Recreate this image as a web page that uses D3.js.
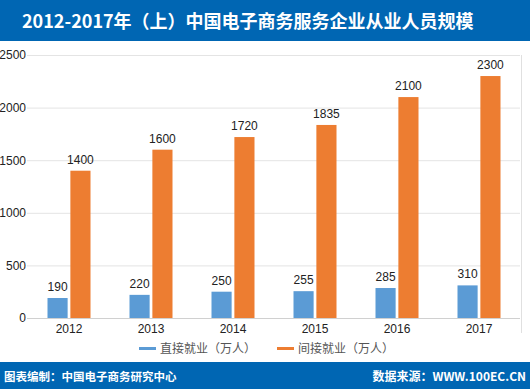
<!DOCTYPE html>
<html>
<head>
<meta charset="utf-8">
<script src="https://cdn.jsdelivr.net/npm/d3@7"></script>
<style>
  body { margin: 0; background: #fff; }
  svg { display: block; font-family: "Liberation Sans", Arial, sans-serif; }
</style>
</head>
<body>
<svg id="chart" width="530" height="389"></svg>
<script>
let years = ["2012", "2013", "2014", "2015", "2016", "2017"];
let direct = [190, 220, 250, 255, 285, 310];
let indirect = [1400, 1600, 1720, 1835, 2100, 2300];
let yTicks = [0, 500, 1000, 1500, 2000, 2500];
let seriesNames = ["直接就业（万人）", "间接就业（万人）"];
let colors = ["#5b9bd5", "#ed7d31"];

let svg = d3.select("#chart");
let plotLeft = 28, plotRight = 520, plotTop = 55, plotBottom = 318;

// Title and footer bars
svg.append("rect").attr("x", 0).attr("y", 0).attr("width", 530).attr("height", 41).attr("fill", "#0066b3");
svg.append("text").attr("x", 22).attr("y", 28).attr("fill", "#fff")
    .attr("font-size", 18).attr("font-weight", "bold")
    .attr("font-family", "'Noto Sans CJK SC', sans-serif")
    .text("2012-2017年（上）中国电子商务服务企业从业人员规模");

svg.append("rect").attr("x", 0).attr("y", 362).attr("width", 530).attr("height", 27).attr("fill", "#0066b3");
svg.append("text").attr("x", 4).attr("y", 381).attr("fill", "#fff")
    .attr("font-size", 11.5).attr("font-weight", "bold")
    .attr("font-family", "'Noto Sans CJK SC', sans-serif")
    .text("图表编制：中国电子商务研究中心");
svg.append("text").attr("x", 526).attr("y", 381).attr("fill", "#fff")
    .attr("text-anchor", "end").attr("font-size", 12).attr("font-weight", "bold")
    .attr("font-family", "'Noto Sans CJK SC', sans-serif")
    .text("数据来源：WWW.100EC.CN");

let xScale = d3.scaleBand().domain(years).range([plotLeft, plotRight]);
let xInner = d3.scaleBand().domain([0, 1]).range([19.5, xScale.bandwidth() - 19.5]).paddingInner(0.12);
let yScale = d3.scaleLinear().domain([0, 2500]).range([plotBottom, plotTop]);

// Gridlines
svg.append("g").selectAll("line").data(yTicks).enter().append("line")
    .attr("x1", plotLeft - 1).attr("x2", plotRight)
    .attr("y1", d => yScale(d) + 0.5).attr("y2", d => yScale(d) + 0.5)
    .attr("stroke", d => d === 0 ? "#d0d0d0" : "#e4e4e4");

svg.append("line").attr("x1", 521.5).attr("x2", 521.5).attr("y1", 55).attr("y2", 333)
    .attr("stroke", "#e0e0e0");

// Y axis labels
let yAxis = svg.append("g").attr("transform", `translate(${plotLeft},0)`)
    .call(d3.axisLeft(yScale).tickValues(yTicks).tickFormat(d3.format("d")).tickSize(0).tickPadding(2));
yAxis.select(".domain").remove();
yAxis.selectAll("text").attr("font-size", 12).attr("fill", "#222")
    .attr("font-family", "'Liberation Sans', Arial, sans-serif");

// X axis labels
let xAxis = svg.append("g").attr("transform", `translate(0,${plotBottom})`)
    .call(d3.axisBottom(xScale).tickSize(0).tickPadding(6));
xAxis.select(".domain").remove();
xAxis.selectAll("text").attr("font-size", 12).attr("fill", "#222")
    .attr("font-family", "'Liberation Sans', Arial, sans-serif");

// Bars
let series = [direct, indirect];
series.forEach((vals, s) => {
    let g = svg.append("g");
    g.selectAll("rect").data(vals).enter().append("rect")
        .attr("x", (d, i) => xScale(years[i]) + xInner(s))
        .attr("y", d => yScale(d))
        .attr("width", xInner.bandwidth())
        .attr("height", d => plotBottom - yScale(d))
        .attr("fill", colors[s]);
    g.selectAll("text").data(vals).enter().append("text")
        .attr("x", (d, i) => xScale(years[i]) + xInner(s) + xInner.bandwidth() / 2)
        .attr("y", d => yScale(d) - 7)
        .attr("text-anchor", "middle")
        .attr("font-size", 12).attr("fill", "#222")
        .text(d => d);
});

// Legend
let legendX = [139, 277];
seriesNames.forEach((name, s) => {
    svg.append("line").attr("x1", legendX[s]).attr("x2", legendX[s] + 17)
        .attr("y1", 348.5).attr("y2", 348.5)
        .attr("stroke", colors[s]).attr("stroke-width", 3);
    svg.append("text").attr("x", legendX[s] + 21).attr("y", 353)
        .attr("font-size", 12).attr("fill", "#555")
        .attr("font-family", "'Noto Sans CJK SC', sans-serif")
        .text(name);
});
</script>
</body>
</html>
